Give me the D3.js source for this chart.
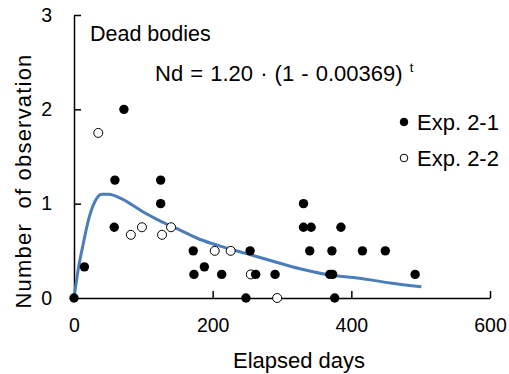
<!DOCTYPE html>
<html>
<head>
<meta charset="utf-8">
<script src="https://cdn.jsdelivr.net/npm/d3@7"></script>
<style>
  body { margin: 0; background: #fff; }
  svg { display: block; font-family: "Liberation Sans", Arial, sans-serif; }
  .axis path, .axis line { stroke: #000; stroke-width: 1.5; }
  .axis text { font-size: 19.5px; fill: #000; }
</style>
</head>
<body>
<svg width="509" height="374"></svg>
<script>
// Exp. 2-1 (filled) : [elapsed days, number]
var exp21 = [
  [0, 0], [15, 0.33], [58, 0.75], [59, 1.25], [72, 2.0], [125, 1.25], [125, 1.0],
  [172, 0.5], [173, 0.25], [188, 0.33], [213, 0.25], [248, 0], [254, 0.5],
  [262, 0.25], [290, 0.25], [331, 1.0], [331, 0.75], [342, 0.75], [340, 0.5],
  [372, 0.5], [385, 0.75], [369, 0.25], [373, 0.25], [376, 0], [416, 0.5],
  [449, 0.5], [492, 0.25]
];

// Exp. 2-2 (open)
var exp22 = [
  [35, 1.75], [82, 0.67], [98, 0.75], [127, 0.67], [140, 0.75],
  [203, 0.5], [226, 0.5], [255, 0.25], [293, 0]
];

// fitted curve
var fitCurve = [
  [0, 0], [6, 0.30], [13.5, 0.58], [21, 0.83], [30, 1.02], [40, 1.10], [50, 1.10],
  [69, 1.05], [98, 0.92], [126, 0.81], [153, 0.72], [182, 0.62], [211, 0.55],
  [249, 0.47], [287, 0.39], [326, 0.31], [364, 0.25], [412, 0.21], [456, 0.16],
  [501, 0.12]
];

var xTicks = [0, 200, 400, 600],
    yTicks = [0, 1, 2, 3];

var svg = d3.select("svg");

var x = d3.scaleLinear().domain([0, 600]).range([74, 490]),
    y = d3.scaleLinear().domain([0, 3]).range([298, 15]);

// axes with inward ticks
var xAxis = d3.axisBottom(x).tickValues(xTicks).tickSizeInner(-7).tickSizeOuter(0).tickPadding(20),
    yAxis = d3.axisLeft(y).tickValues(yTicks).tickFormat(d3.format("d"))
      .tickSizeInner(-7).tickSizeOuter(0).tickPadding(22);

svg.append("g")
    .attr("class", "axis axis--y")
    .attr("transform", "translate(" + x(0) + ",0)")
    .call(yAxis)
    .call(function(g) { g.selectAll(".tick").filter(function(d) { return d === 0; }).select("line").remove(); });

svg.append("g")
    .attr("class", "axis axis--x")
    .attr("transform", "translate(0," + y(0) + ")")
    .call(xAxis)
    .call(function(g) { g.selectAll(".tick").filter(function(d) { return d === 0; }).select("line").remove(); });

// axis titles
svg.append("text")
    .attr("x", 299)
    .attr("y", 368)
    .attr("text-anchor", "middle")
    .style("font-size", "22px")
    .text("Elapsed days");

svg.append("text")
    .attr("transform", "translate(31,181) rotate(-90)")
    .attr("text-anchor", "middle")
    .style("font-size", "22px")
    .style("letter-spacing", "1.2px")
    .style("white-space", "pre")
    .text("Number  of observation");

// curve
var line = d3.line()
    .curve(d3.curveMonotoneX)
    .x(function(d) { return x(d[0]); })
    .y(function(d) { return y(d[1]); });

svg.append("path")
    .datum(fitCurve)
    .attr("fill", "none")
    .attr("stroke", "#4a7ebb")
    .attr("stroke-width", 3)
    .attr("d", line);

// points
svg.append("g").selectAll("circle")
    .data(exp22)
  .enter().append("circle")
    .attr("cx", function(d) { return x(d[0]); })
    .attr("cy", function(d) { return y(d[1]); })
    .attr("r", 4.5)
    .attr("fill", "#fff")
    .attr("stroke", "#000")
    .attr("stroke-width", 1);

svg.append("g").selectAll("circle")
    .data(exp21)
  .enter().append("circle")
    .attr("cx", function(d) { return x(d[0]); })
    .attr("cy", function(d) { return y(d[1]); })
    .attr("r", 4.7)
    .attr("fill", "#000");

// annotations
svg.append("text")
    .attr("x", 90)
    .attr("y", 41)
    .style("font-size", "21.5px")
    .text("Dead bodies");

var eq = svg.append("text")
    .attr("x", 155)
    .attr("y", 81)
    .style("font-size", "22px")
    .style("word-spacing", "1px")
    .style("white-space", "pre")
    .text("Nd = 1.20 \u00b7 (1 - 0.00369) ");
eq.append("tspan")
    .attr("dy", -9)
    .style("font-size", "13px")
    .text("t");

// legend
var legend = [
  {label: "Exp. 2-1", fill: "#000", y: 122},
  {label: "Exp. 2-2", fill: "#fff", y: 158}
];

var lg = svg.append("g").selectAll("g")
    .data(legend)
  .enter().append("g")
    .attr("transform", function(d) { return "translate(404," + d.y + ")"; });

lg.append("circle")
    .attr("r", 3.8)
    .attr("fill", function(d) { return d.fill; })
    .attr("stroke", "#000")
    .attr("stroke-width", 1);

lg.append("text")
    .attr("x", 13)
    .attr("dy", "0.35em")
    .style("font-size", "22px")
    .text(function(d) { return d.label; });
</script>
</body>
</html>
